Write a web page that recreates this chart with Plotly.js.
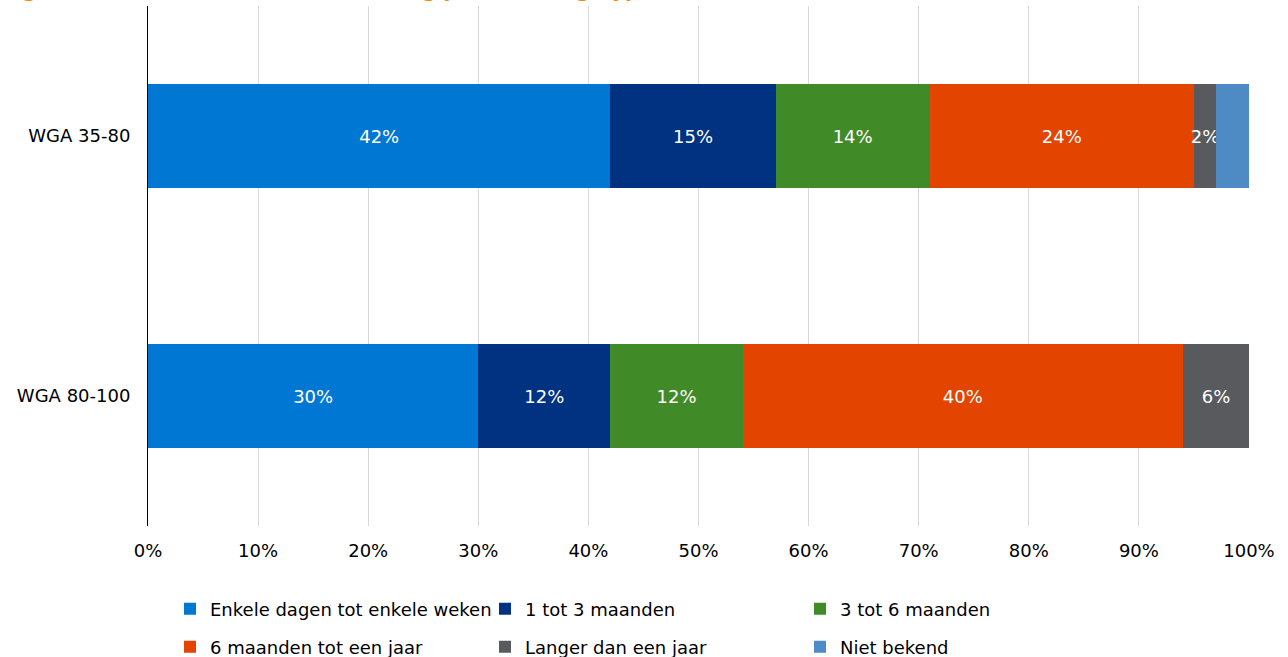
<!DOCTYPE html>
<html><head><meta charset="utf-8">
<script src="https://cdn.plot.ly/plotly-3.0.1.min.js"></script>
<style>html,body{margin:0;padding:0;background:#fff}#chart{width:1288px;height:657px}</style>
</head><body><div id="chart"></div>
<script>
const categories = ["WGA 35-80", "WGA 80-100"];
const seriesNames = ["Enkele dagen tot enkele weken", "1 tot 3 maanden", "3 tot 6 maanden",
  "6 maanden tot een jaar", "Langer dan een jaar", "Niet bekend"];
const enkeleDagen = [42, 30];
const eenTotDrie = [15, 12];
const drieTotZes = [14, 12];
const zesTotJaar = [24, 40];
const langerJaar = [2, 6];
const nietBekend = [3, 0];
const showLabel = [true, true, true, true, true, false];
const colors = ["#0177D4", "#003282", "#418A28", "#E34400", "#595A5E", "#4E8BC4"];
const xTickVals = [0,10,20,30,40,50,60,70,80,90,100];
const titleLeft = "Figuur 4.5";
const titleMain = "Duur van de scholing per uitkeringstype";

const values = [enkeleDagen, eenTotDrie, drieTotZes, zesTotJaar, langerJaar, nietBekend];
const FONT = "DejaVu Sans, Verdana, sans-serif";
const FS = 18;

const traces = values.map((v, i) => ({
  type: 'bar', orientation: 'h', name: seriesNames[i],
  y: categories, x: v,
  marker: {color: colors[i], line: {width: 0}},
  text: v.map(d => (showLabel[i] && d > 0) ? d + '%' : ''),
  textposition: 'inside', insidetextanchor: 'middle', textangle: 0,
  textfont: {color: '#ffffff', size: FS, family: FONT},
  hoverinfo: 'x+name',
  legend: i < 3 ? 'legend' : 'legend2'
}));

const legendCommon = {
  orientation: 'h', xref: 'container', yref: 'container',
  xanchor: 'left', yanchor: 'middle',
  font: {size: FS, family: FONT, color: '#000'},
  entrywidth: 270, entrywidthmode: 'pixels',
  itemwidth: 30, bgcolor: 'rgba(0,0,0,0)', traceorder: 'normal'
};

const layout = {
  width: 1288, height: 657,
  margin: {l: 148, r: 39, t: 6, b: 131},
  paper_bgcolor: '#fff', plot_bgcolor: '#fff',
  barmode: 'stack', bargap: 0.6,
  font: {family: FONT, size: FS, color: '#000'},
  uniformtext: {mode: 'show', minsize: FS},
  xaxis: {range: [0, 100], tickvals: xTickVals, ticktext: xTickVals.map(v => v + '%'),
    showgrid: true, gridcolor: '#d9d9d9', gridwidth: 1, zeroline: false,
    showline: false, ticks: '', ticklabelstandoff: 12,
    tickfont: {size: FS, family: FONT, color: '#000'}, fixedrange: true},
  yaxis: {autorange: 'reversed', type: 'category', showgrid: false, zeroline: false,
    showline: true, linecolor: '#000', linewidth: 1, ticks: '', ticklabelstandoff: 13,
    tickfont: {size: FS, family: FONT, color: '#000'}, fixedrange: true},
  legend: Object.assign({}, legendCommon, {x: 170/1288, y: 48/657}),
  legend2: Object.assign({}, legendCommon, {x: 170/1288, y: 10/657}),
  annotations: [
    {text: '<b>' + titleLeft + '</b>', xref: 'paper', yref: 'paper', x: -148/1101, y: 1 + 2/520,
      xanchor: 'left', yanchor: 'bottom', showarrow: false,
      font: {size: 20, family: FONT, color: '#F08C00'}},
    {text: '<b>' + titleMain + '</b>', xref: 'paper', yref: 'paper', x: 48/1101, y: 1 + 2/520,
      xanchor: 'left', yanchor: 'bottom', showarrow: false,
      font: {size: 20, family: FONT, color: '#F08C00'}}
  ],
  showlegend: true
};

Plotly.newPlot('chart', traces, layout, {displayModeBar: false, staticPlot: true});
</script></body></html>
